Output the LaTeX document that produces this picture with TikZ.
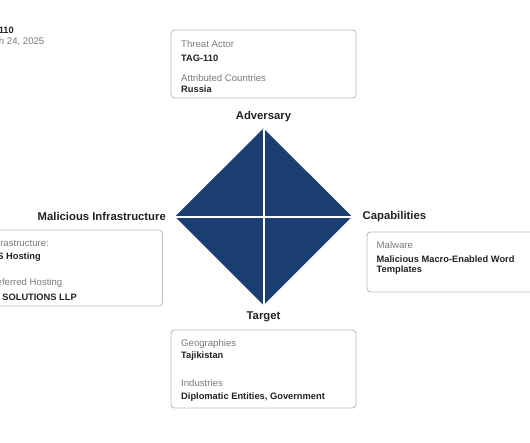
\documentclass[tikz,border=0pt]{standalone}
\usepackage{fontspec}
\setmainfont{Liberation Sans}
\usetikzlibrary{positioning}
\definecolor{navy}{HTML}{1B3F73}
\definecolor{inktext}{HTML}{222222}
\definecolor{graytext}{HTML}{7A7A7A}
\definecolor{boxline}{HTML}{BDBDBD}

\begin{document}
\begin{tikzpicture}[x=1pt,y=-1pt,
  infobox/.style={draw=boxline,line width=0.9pt,rounded corners=3.5pt},
  fieldname/.style={font=\fontsize{9.6}{11}\selectfont,text=graytext,inner sep=0pt},
  fieldvalue/.style={font=\fontsize{9.3}{11}\selectfont\bfseries,text=inktext,inner sep=0pt},
  vertexlabel/.style={font=\fontsize{11.3}{13}\selectfont\bfseries,text=inktext,inner sep=0pt}]
\useasboundingbox (0,0) rectangle (530,442);
\clip (0,0) rectangle (530,442);
\fill[white] (0,0) rectangle (530,442);

% header, cut by the left edge
\node[fieldvalue,anchor=east] (hdrname) at (14,30) {110};
\node[fieldname,anchor=east] (hdrdate) at (44.5,42) {h 24, 2025};

% diamond
\coordinate (top) at (263.5,128.5);
\coordinate (left) at (175,216.5);
\coordinate (right) at (352,216.5);
\coordinate (bottom) at (263.5,305);
\fill[navy] (top) -- (right) -- (bottom) -- (left) -- cycle;
\draw[white,line width=2pt] (top) -- (bottom);
\draw[white,line width=2pt] (left) -- (right);

\node[vertexlabel,anchor=center] (adv) at (263.5,117) {Adversary};
\node[vertexlabel,anchor=center] (tgt) at (263.5,317) {Target};
\node[vertexlabel,anchor=east] (infra) at (166,216.5) {Malicious Infrastructure};
\node[vertexlabel,anchor=west] (capab) at (362.5,216.5) {Capabilities};

% adversary box
\draw[infobox] (171,30) rectangle (356,98);
\node[fieldname,anchor=west] (actorkey) at (181,44.5) {Threat Actor};
\node[fieldvalue,anchor=west] (actorval) at (181,58) {TAG-110};
\node[fieldname,anchor=west] (countrykey) at (181,78) {Attributed Countries};
\node[fieldvalue,anchor=west] (countryval) at (181,89) {Russia};

% infrastructure box
\draw[infobox] (-20,230) rectangle (162.5,306);
\node[fieldname,anchor=east] (infrakey) at (49,243) {rastructure:};
\node[fieldvalue,anchor=east] (infraval) at (41,257) {S Hosting};
\node[fieldname,anchor=east] (hostkey) at (62.5,283) {eferred Hosting};
\node[fieldvalue,anchor=east] (hostval) at (77,297) {T SOLUTIONS LLP};

% capabilities box
\draw[infobox] (367,232) rectangle (545,292);
\node[fieldname,anchor=west] (malkey) at (376.5,245) {Malware};
\node[fieldvalue,anchor=west] (malval) at (376.5,259) {Malicious Macro-Enabled Word};
\node[fieldvalue,anchor=west] (malval2) at (376.5,270.5) {Templates};

% target box
\draw[infobox] (171,330) rectangle (356,408);
\node[fieldname,anchor=west] (geokey) at (181,344) {Geographies};
\node[fieldvalue,anchor=west] (geoval) at (181,356) {Tajikistan};
\node[fieldname,anchor=west] (indkey) at (181,383) {Industries};
\node[fieldvalue,anchor=west] (indval) at (181,397) {Diplomatic Entities, Government};
\end{tikzpicture}
\end{document}
